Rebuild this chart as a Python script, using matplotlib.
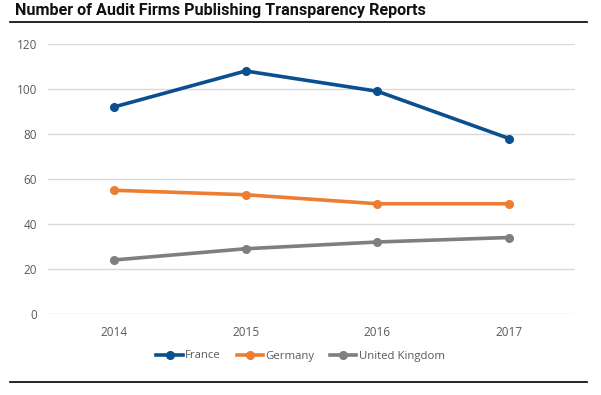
import matplotlib
matplotlib.use("Agg")
import matplotlib.pyplot as plt
from matplotlib.lines import Line2D

years = ["2014", "2015", "2016", "2017"]
france = [92, 108, 99, 78]
germany = [55, 53, 49, 49]
uk = [24, 29, 32, 34]
series_names = ["France", "Germany", "United Kingdom"]
colors = ["#0a4f8f", "#ed7d31", "#7f7f7f"]
y_ticks = [0, 20, 40, 60, 80, 100, 120]

plt.rcParams["font.family"] = ["Open Sans", "DejaVu Sans"]

W, H = 601, 395
fig = plt.figure(figsize=(W / 100, H / 100), dpi=100)
ax = fig.add_axes([48 / W, 1 - 314 / H, (575 - 48) / W, (314 - 44) / H])

x = range(len(years))
for vals, name, c in zip([france, germany, uk], series_names, colors):
    ax.plot(x, vals, "-o", color=c, lw=2.6, ms=5.5, label=name,
            solid_capstyle="round", zorder=3)

ax.set_xlim(-0.5, len(years) - 0.5)
ax.set_ylim(0, 120)
ax.set_yticks(y_ticks)
ax.set_xticks(list(x))
ax.set_xticklabels(years)
ax.grid(axis="y", color="#d9d9d9", lw=1)
ax.set_axisbelow(True)
for s in ax.spines.values():
    s.set_visible(False)
ax.tick_params(length=0, labelsize=8.5, colors="#595959")
ax.tick_params(axis="y", pad=8)
ax.tick_params(axis="x", pad=9)

# legend row below the axis, like the spreadsheet original
handles = [Line2D([0], [0], color=c, lw=2.6, marker="o", ms=5.5) for c in colors]
fig.legend(handles, series_names, loc="center", bbox_to_anchor=(0.5, 1 - 356 / H),
           ncol=3, frameon=False, fontsize=8.2, labelcolor="#595959",
           handlelength=2.3, handletextpad=0.2, columnspacing=1.4)

fig.text(15 / W, 1 - 11 / H, "Number of Audit Firms Publishing Transparency Reports",
         fontsize=11.6, fontweight="bold", va="center", ha="left",
         family=["Roboto", "DejaVu Sans"], color="#111111")
fig.add_artist(Line2D([10 / W, 587 / W], [1 - 22 / H, 1 - 22 / H], color="black", lw=1.2))
fig.add_artist(Line2D([10 / W, 587 / W], [1 - 382 / H, 1 - 382 / H], color="black", lw=1.2))

fig.savefig("out.png", dpi=100)
